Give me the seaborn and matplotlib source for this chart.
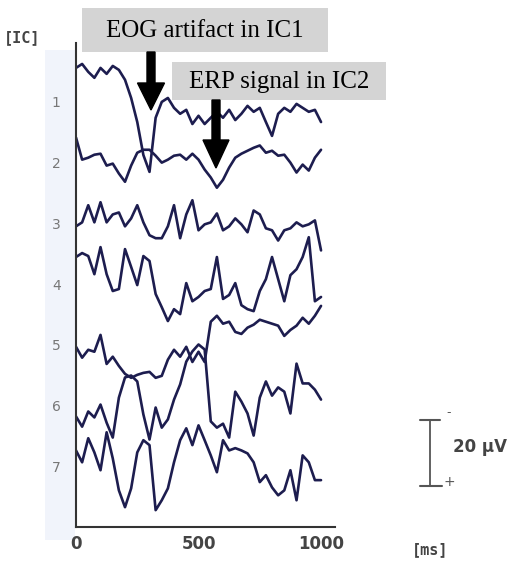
import matplotlib
matplotlib.use("Agg")
import matplotlib.pyplot as plt
import numpy as np
import pandas as pd
import seaborn as sns
from matplotlib.patches import Rectangle, FancyArrow

sns.set_style("white")

# time axis of the traces (ms), one sample every 25 ms
time_ms = np.arange(0, 1001, 25)

ic_names = ["1", "2", "3", "4", "5", "6", "7"]

# amplitudes (uV, negative = up)
ic1_uv = [-10.3, -11.5, -9.1, -7.3, -10.3, -8.5, -10.9, -9.7, -6.7, -1.2, 6.1, 16.1, 21.2, 4.8,
          0.0, -1.2, 1.8, 3.6, 2.4, 6.7, 4.2, 6.7, 4.8, 3.0, 4.8, 2.4, 5.5, 3.6, 1.2, 3.0, 1.8,
          6.1, 10.3, 3.6, 1.8, 3.0, 0.6, 1.8, 3.0, 2.4, 6.1]
ic2_uv = [-7.6, -0.9, -1.5, -2.4, -2.7, 0.9, 0.3, 3.3, 5.8, 0.9, -3.0, -3.9, -3.9, -2.1,
          0.0, -0.9, -2.1, -2.4, -0.9, -2.7, -0.9, 2.1, 4.5, 7.6, 5.2, 1.5, -1.5, -2.7, -3.6,
          -4.5, -5.2, -3.0, -3.6, -2.1, -2.4, 0.0, 3.0, 0.6, 2.4, -1.5, -3.9]
ic3_uv = [0.9, -0.3, -5.5, -0.3, -6.4, -0.3, -2.7, -3.3, 0.9, -1.5, -5.5, -0.3, 3.6, 4.5,
          4.5, 0.9, -5.5, 4.5, -2.7, -7.0, 2.1, 0.3, -0.3, -3.0, 2.1, 0.9, -1.5, 0.3, 2.7,
          -3.9, -2.7, 1.5, 2.1, 5.2, 2.1, 1.5, -0.3, 0.9, 0.3, -0.9, 8.2]
ic4_uv = [-8.2, -9.4, -8.5, -3.0, -11.2, -3.0, 2.1, 1.5, -10.6, -5.2, 0.3, -8.5, -7.0, 3.0,
          7.0, 11.2, 7.6, 9.1, -0.3, 5.2, 3.9, 2.1, 1.5, -8.2, 4.5, 3.3, -0.3, 6.4, 7.6,
          8.2, 2.1, -1.5, -8.2, -1.5, 5.2, -2.7, -4.5, -8.2, -14.2, 5.2, 3.9]
ic5_uv = [0.6, 3.9, 1.5, 2.1, -3.0, 5.8, 3.6, 6.4, 8.8, 10.0, 9.1, 8.5, 8.2, 10.0,
          9.4, 4.5, 1.5, 3.6, 0.6, 5.2, 2.1, 5.2, -7.0, -8.8, -6.4, -7.0, -3.9, -3.3, -5.2,
          -6.1, -7.6, -7.0, -6.4, -5.8, -2.7, -4.5, -5.8, -8.2, -6.4, -8.8, -11.8]
ic6_uv = [3.3, 6.4, 1.8, 3.6, -0.3, 5.2, 9.7, -2.4, -8.5, -9.1, -7.3, 2.7, 10.3, 0.6,
          6.7, 4.2, -1.8, -6.4, -13.3, -16.4, -18.5, -17.0, 4.8, 6.7, 5.5, 9.7, -4.2, -1.2,
          2.4, 9.1, -2.4, -7.3, -3.0, -5.5, -4.2, 2.4, -12.7, -6.7, -6.7, -4.8, -1.8]
ic7_uv = [-4.8, -1.2, -8.5, -4.2, 1.2, -10.3, -2.4, 7.3, 12.4, 6.7, -4.2, -7.9, -6.4, 13.3,
          10.3, 6.7, -1.2, -7.9, -11.5, -6.4, -12.4, -7.9, -3.3, 1.8, -7.9, -4.8, -5.5, -4.8,
          -3.9, -1.2, 4.8, 2.7, 6.4, 8.8, 7.3, 1.2, 10.3, -3.3, -1.2, 4.2, 4.2]

UV_PER_ROW = 18.4  # uV between two neighbouring IC baselines
SCALE_UV = 20
trace_color = "#1d1d4f"

rows = []
for k, amps in enumerate([ic1_uv, ic2_uv, ic3_uv, ic4_uv, ic5_uv, ic6_uv, ic7_uv]):
    for t, a in zip(time_ms, amps):
        rows.append({"ic": ic_names[k], "time": t, "pos": k + 1 + a / UV_PER_ROW})
df = pd.DataFrame(rows)

fig = plt.figure(figsize=(5.14, 5.69), dpi=100)

# pale strip behind the tick labels
bg = fig.add_axes([0, 0, 1, 1], zorder=0)
bg.set_xlim(0, 514)
bg.set_ylim(569, 0)
bg.axis("off")
bg.add_patch(Rectangle((45, 50), 30, 490, fc="#f1f4fb", ec="none"))

ax = fig.add_axes([76 / 514, 1 - 527 / 569, 259 / 514, 484 / 569], zorder=1)
ax.patch.set_alpha(0)
sns.lineplot(data=df, x="time", y="pos", units="ic", estimator=None, color=trace_color,
             lw=1.9, ax=ax, legend=False)

ax.set_xlim(0, 1057)
ax.set_ylim(8.0, 0.03)
ax.set_xticks([0, 500, 1000])
ax.set_yticks(range(1, 8))
ax.set_yticklabels(ic_names)
ax.set_xlabel("")
ax.set_ylabel("")
for side in ["top", "right"]:
    ax.spines[side].set_visible(False)
for side in ["left", "bottom"]:
    ax.spines[side].set_color("#333333")
    ax.spines[side].set_linewidth(1.5)
ax.tick_params(axis="y", direction="in", length=4, width=1, color="#555555",
               labelcolor="#777777", labelsize=10, pad=11)
ax.tick_params(axis="x", direction="in", length=4, width=1, color="#555555",
               labelcolor="#444444", labelsize=12, pad=6)
for lab in ax.get_xticklabels():
    lab.set_fontweight("bold")

# scale bar: 20 uV
sb_top = 6.24
sb_bot = sb_top + SCALE_UV / UV_PER_ROW
ax.plot([1445, 1445], [sb_top, sb_bot], color="#555555", lw=1.3, clip_on=False)
ax.plot([1404, 1486], [sb_top, sb_top], color="#555555", lw=1.5, clip_on=False)
ax.plot([1404, 1495], [sb_bot, sb_bot], color="#555555", lw=1.5, clip_on=False)

# overlay in pixel units for the decorations
ov = fig.add_axes([0, 0, 1, 1], zorder=2)
ov.set_xlim(0, 514)
ov.set_ylim(569, 0)
ov.axis("off")
ov.text(449, 413, "-", fontsize=9, color="#555555", ha="center", va="center")
ov.text(449, 482, "+", fontsize=10, color="#555555", ha="center", va="center")
ov.text(453, 447, "20 μV", fontsize=12, fontweight="bold", color="#444444",
        ha="left", va="center")
ov.text(430, 550, "[ms]", fontsize=11, fontweight="bold", color="#444444",
        ha="center", va="center", family="DejaVu Sans Mono")
ov.text(22, 38, "[IC]", fontsize=11, fontweight="bold", color="#444444",
        ha="center", va="center", family="DejaVu Sans Mono")

# annotation boxes and arrows
ov.add_patch(Rectangle((82, 8), 246, 44, fc="#d4d4d4", ec="none"))
ov.text(205, 31, "EOG artifact in IC1", fontsize=18, family="Liberation Serif",
        ha="center", va="center", color="black")
ov.add_patch(Rectangle((172, 62), 214, 38, fc="#d4d4d4", ec="none"))
ov.text(279, 82, "ERP signal in IC2", fontsize=18, family="Liberation Serif",
        ha="center", va="center", color="black")
ov.add_patch(FancyArrow(151, 52, 0, 58, width=8, head_width=27, head_length=27,
                        length_includes_head=True, color="black"))
ov.add_patch(FancyArrow(216, 100, 0, 68, width=8, head_width=26, head_length=28,
                        length_includes_head=True, color="black"))

fig.savefig("out.png", dpi=100)
plt.close(fig)
